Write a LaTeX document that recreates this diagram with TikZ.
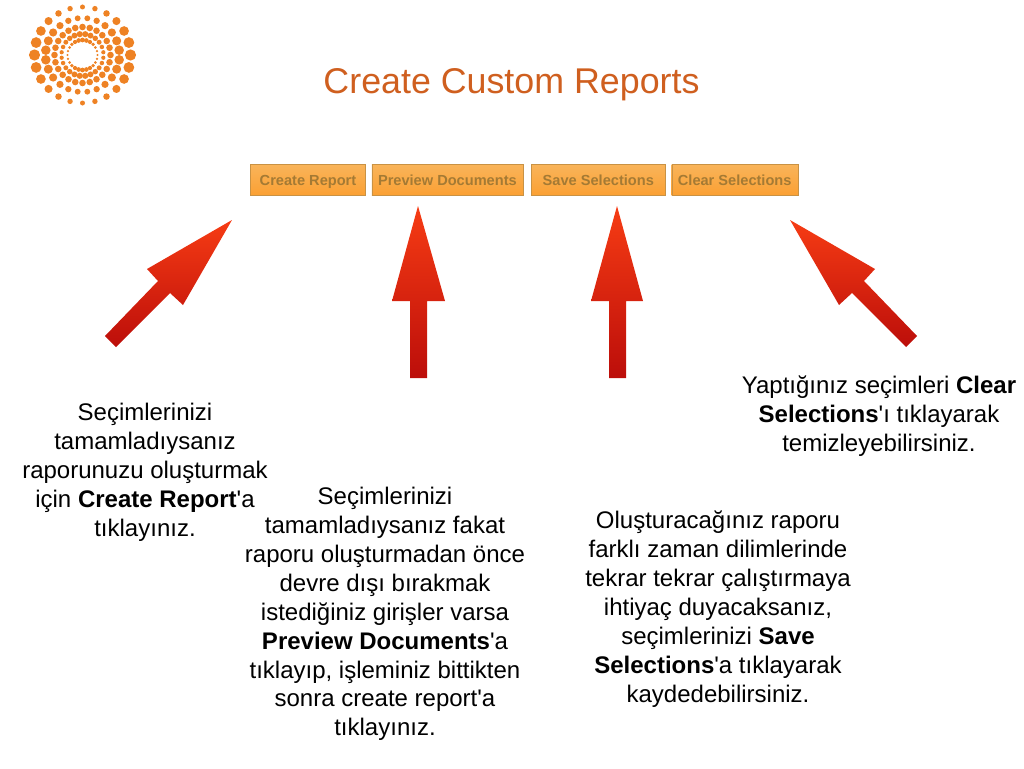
\documentclass[tikz,border=0pt]{standalone}
\usepackage{fontspec}
\setmainfont{Liberation Sans}
\usetikzlibrary{positioning}
\definecolor{titleorange}{HTML}{CF5F1F}
\definecolor{logoorange}{HTML}{EE8224}
\definecolor{arrowtop}{HTML}{F63C14}
\definecolor{arrowbottom}{HTML}{BC0E0A}
\definecolor{buttontop}{HTML}{F9B45A}
\definecolor{buttonbottom}{HTML}{FBA033}
\definecolor{buttonedge}{HTML}{C99244}
\definecolor{buttontext}{HTML}{A47A34}
\begin{document}
\begin{tikzpicture}[
x=1pt,y=-1pt,
button/.style={
  draw=buttonedge,
  top color=buttontop,
  bottom color=buttonbottom,
  text=buttontext,
  font=\fontsize{14.6}{16}\selectfont\bfseries,
  minimum height=31pt,
  text height=12pt,
  text depth=1.5pt,
  inner sep=0pt
  },
note/.style={
  align=center,
  font=\fontsize{24}{28.9}\selectfont,
  inner sep=0pt
  },
redarrow/.style={
  top color=arrowtop,
  bottom color=arrowbottom,
  draw=none
  }
]
\useasboundingbox (0,0) rectangle (1024,768);

% logo
\foreach \rr/\off/\vsize/\hsize in {48/0/2.5/5.6,37/7.5/2.9/4.8,28/0/3.3/3.3,21/7.5/3.1/2.1,15/0/2.4/1.2}
{\foreach \ang in {0,15,...,345}
  \fill[logoorange] ({82.5+\rr*cos(\ang+\off)},{55+\rr*sin(\ang+\off)})
    circle ({\vsize+(\hsize-\vsize)*cos(\ang+\off)^2});
}

\node[font=\fontsize{35.8}{38}\selectfont,text=titleorange,inner sep=0pt] (title) at (511.5,84.5) {Create Custom Reports};

% buttons
\node[button,minimum width=115pt] (create) at (308,180) {Create Report};
\node[button,minimum width=151pt,right=6pt of create] (preview) {Preview Documents};
\node[button,minimum width=134pt,right=8pt of preview] (save) {Save Selections};
\node[button,minimum width=126pt,right=6pt of save] (clear) {Clear Selections};

% arrows
\shade[redarrow] (232,220) -- (147,269) -- (158,281) -- (105,336) -- (116,347) -- (170,293) -- (183,305) -- cycle;
\shade[redarrow] (418,206) -- (392,301) -- (410,301) -- (410,378) -- (427,378) -- (427,301) -- (445,301) -- cycle;
\shade[redarrow] (617,206) -- (591,301) -- (609,301) -- (609,378) -- (626,378) -- (626,301) -- (643,301) -- cycle;
\shade[redarrow] (790,220) -- (875,269) -- (864,281) -- (917,336) -- (906,347) -- (852,293) -- (839,305) -- cycle;

% texts
\node[note] (notecreate) at (145,472) {Seçimlerinizi\\tamamladıysanız\\raporunuzu oluşturmak\\için \textbf{Create Report}\textquotesingle a\\tıklayınız.};
\node[note] (notepreview) at (385,614) {Seçimlerinizi\\tamamladıysanız fakat\\raporu oluşturmadan önce\\devre dışı bırakmak\\istediğiniz girişler varsa\\\textbf{Preview Documents}\textquotesingle a\\tıklayıp, işleminiz bittikten\\sonra create report\textquotesingle a\\tıklayınız.};
\node[note] (notesave) at (718,609) {Oluşturacağınız raporu\\farklı zaman dilimlerinde\\tekrar tekrar çalıştırmaya\\ihtiyaç duyacaksanız,\\seçimlerinizi \textbf{Save}\\\textbf{Selections}\textquotesingle a tıklayarak\\kaydedebilirsiniz.};
\node[note] (noteclear) at (879,416.5) {Yaptığınız seçimleri \textbf{Clear}\\\textbf{Selections}\textquotesingle ı tıklayarak\\temizleyebilirsiniz.};
\end{tikzpicture}
\end{document}
